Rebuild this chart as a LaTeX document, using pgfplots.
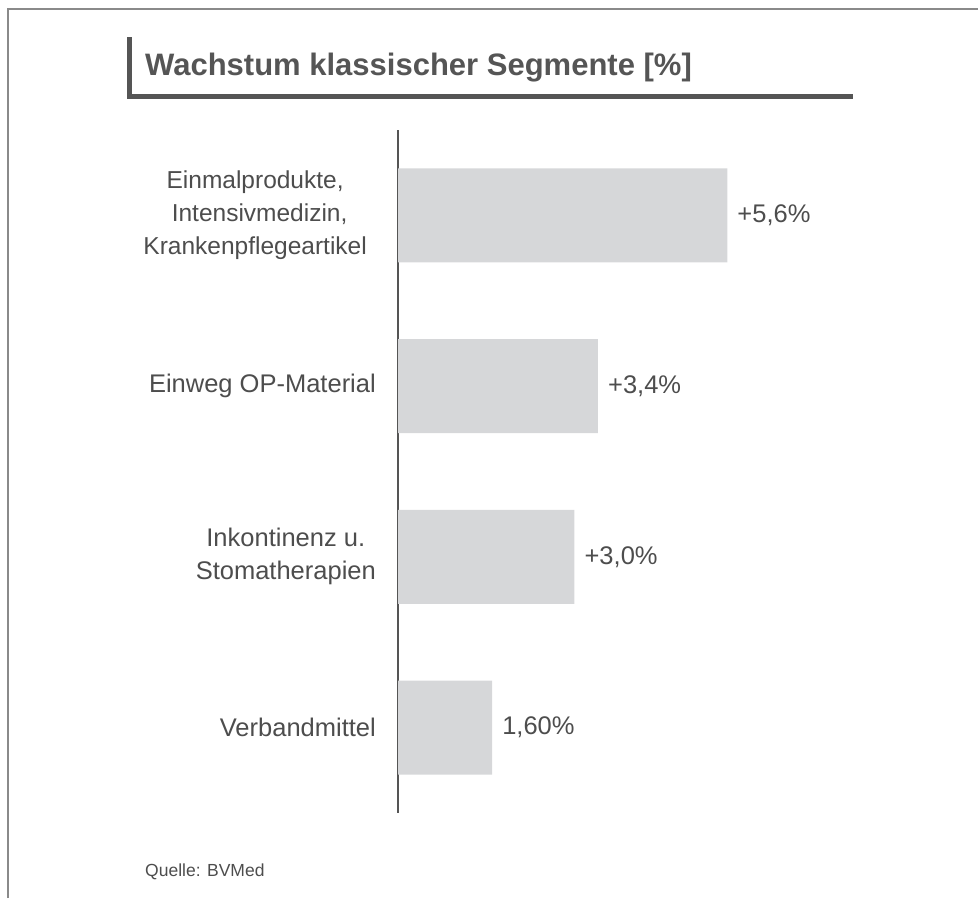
\documentclass[border=0pt]{standalone}
\usepackage{fontspec}
\setmainfont{Liberation Sans}
\usepackage{pgfplots}
\pgfplotsset{compat=1.18}
\usepackage{pgfplotstable}
\definecolor{txt}{HTML}{4D4D4D}
\definecolor{ttl}{HTML}{555555}
\definecolor{barc}{HTML}{D6D7D9}
\definecolor{frm}{HTML}{8A8A8A}
\pgfplotstableread{
y val lab
0 5.6 +5,6
1 3.4 +3,4
2 3.0 +3,0
3 1.6 1,60
}\datatab
\newcommand{\sh}{\hspace*{9pt}}
\newcommand{\fs}{\fontsize{24.5}{33}\selectfont}
\begin{document}
\begin{tikzpicture}
\path[use as bounding box] (0pt,0pt) rectangle (978pt,-898pt);
\draw[frm, line width=1.5pt] (8pt,-898pt) -- (8pt,-9pt) -- (978pt,-9pt);
\fill[ttl] (127pt,-37pt) rectangle (132pt,-99pt);
\fill[ttl] (127pt,-94pt) rectangle (853pt,-99pt);
\node[anchor=base west, inner sep=0pt, text=ttl, font=\fontsize{31}{37}\selectfont\bfseries] at (145pt,-75pt) {Wachstum klassischer Segmente [\%]};
\node[anchor=base west, inner sep=0pt, text=txt, font=\fontsize{17.5}{21}\selectfont] at (145pt,-876pt) {Quelle: BVMed};
\begin{axis}[
  at={(398pt,-130pt)}, anchor=north west,
  scale only axis, width=470.4pt, height=683pt,
  xmin=0, xmax=8, ymin=-0.5, ymax=3.5, y dir=reverse,
  xbar, bar width=94pt,
  axis x line=none, axis y line=left,
  axis line style={draw=ttl, line width=2pt, -},
  ytick={0,1,2,3},
  yticklabels={{\fs Einmalprodukte,\sh\\\fs Intensivmedizin,\sh\\\fs Krankenpflegeartikel\sh},{Einweg OP-Material},{Inkontinenz u.\\Stomatherapien},{Verbandmittel}},
  major tick length=0pt, xtick=\empty,
  yticklabel style={align=center, font=\fontsize{25.5}{33}\selectfont, text=txt, inner sep=0pt, xshift=-22pt},
  nodes near coords={\pgfplotspointmeta\%}, point meta=explicit symbolic,
  every node near coord/.append style={anchor=west, xshift=10pt, inner sep=0pt, font=\fontsize{25.5}{30}\selectfont, text=txt},
  clip=false
]
\addplot[fill=barc, draw=none] table[x=val, y=y, meta=lab] {\datatab};
\end{axis}
\end{tikzpicture}
\end{document}
